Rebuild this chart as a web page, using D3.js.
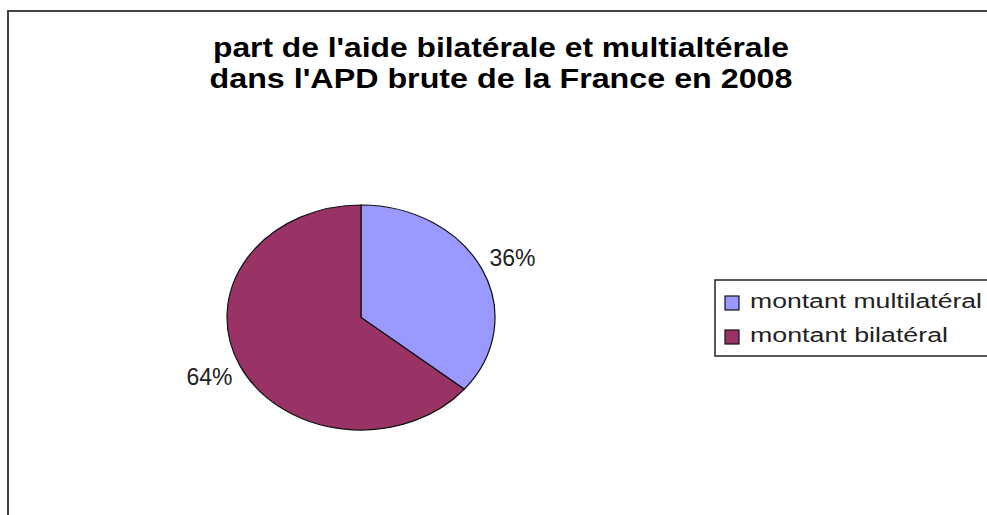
<!DOCTYPE html>
<html>
<head>
<meta charset="utf-8">
<script src="https://cdn.jsdelivr.net/npm/d3@7"></script>
<style>
  body { margin: 0; background: #fff; }
  svg { display: block; font-family: "Liberation Sans", Arial, sans-serif; }
</style>
</head>
<body>
<div id="chart"></div>
<script>
(function() {
    // Data
    var categories = ["montant multilatéral", "montant bilatéral"];
    var values = [36, 64];
    var colors = ["#9999ff", "#993366"];
    var titleLines = ["part de l'aide bilatérale et multialtérale",
                      "dans l'APD brute de la France en 2008"];

    var width = 987, height = 515;

    var svg = d3.select("#chart").append("svg")
        .attr("width", width)
        .attr("height", height);

    // Outer chart frame (runs off the right and bottom edges)
    svg.append("rect")
        .attr("x", 8).attr("y", 11)
        .attr("width", 1000).attr("height", 600)
        .attr("fill", "none")
        .attr("stroke", "#444")
        .attr("stroke-width", 2);

    // Title (stretched to the width seen in the original)
    svg.append("g").selectAll("text")
        .data(titleLines)
        .join("text")
        .attr("x", 501)
        .attr("y", function(d, i) { return 57 + i * 31; })
        .attr("text-anchor", "middle")
        .attr("font-size", "27px")
        .attr("font-weight", "bold")
        .attr("fill", "#000")
        .attr("textLength", function(d, i) { return i === 0 ? 576 : 583; })
        .attr("lengthAdjust", "spacingAndGlyphs")
        .text(function(d) { return d; });

    // Pie (drawn as an ellipse: circle scaled vertically)
    var cx = 361, cy = 317.5, rx = 134, ry = 112.5;

    var pie = d3.pie().sort(null).value(function(d) { return d; });
    var arcs = pie(values);
    var arc = d3.arc().innerRadius(0).outerRadius(rx);

    var g = svg.append("g")
        .attr("transform", "translate(" + cx + "," + cy + ") scale(1," + (ry / rx) + ")");

    g.selectAll("path")
        .data(arcs)
        .join("path")
        .attr("d", arc)
        .attr("fill", function(d, i) { return colors[i]; })
        .attr("stroke", "#111")
        .attr("stroke-width", 1.2)
        .attr("vector-effect", "non-scaling-stroke");

    // Percentage labels outside each slice
    var labelArc = d3.arc().innerRadius(rx * 1.25).outerRadius(rx * 1.25);
    var total = d3.sum(values);
    svg.append("g").selectAll("text")
        .data(arcs)
        .join("text")
        .attr("x", function(d) { return cx + labelArc.centroid(d)[0]; })
        .attr("y", function(d) { return cy + labelArc.centroid(d)[1] * ry / rx; })
        .attr("dy", "0.35em")
        .attr("text-anchor", "middle")
        .attr("font-size", "23px")
        .attr("fill", "#222")
        .text(function(d) { return Math.round(d.value / total * 100) + "%"; });

    // Legend
    var legend = svg.append("g").attr("transform", "translate(715,280)");
    legend.append("rect")
        .attr("width", 300).attr("height", 76)
        .attr("fill", "#fff")
        .attr("stroke", "#222")
        .attr("stroke-width", 1.5);

    var items = legend.selectAll("g.item")
        .data(categories)
        .join("g")
        .attr("class", "item")
        .attr("transform", function(d, i) { return "translate(10," + (16 + i * 34) + ")"; });

    items.append("rect")
        .attr("width", 14).attr("height", 14)
        .attr("fill", function(d, i) { return colors[i]; })
        .attr("stroke", "#111")
        .attr("stroke-width", 1.2);

    items.append("text")
        .attr("x", 25)
        .attr("y", 12)
        .attr("font-size", "20px")
        .attr("fill", "#222")
        .attr("textLength", function(d, i) { return i === 0 ? 232 : 198; })
        .attr("lengthAdjust", "spacingAndGlyphs")
        .text(function(d) { return d; });
})();
</script>
</body>
</html>
